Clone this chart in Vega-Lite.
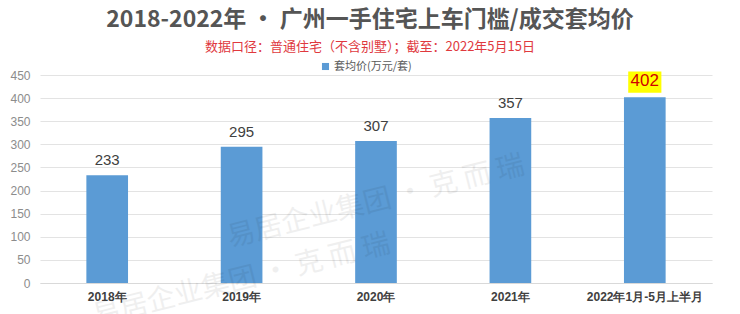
{
  "$schema": "https://vega.github.io/schema/vega-lite/v6.json",
  "width": 672,
  "height": 208,
  "autosize": {"type": "none"},
  "padding": {"left": 40, "top": 75, "right": 28, "bottom": 31},
  "background": "white",
  "title": {
    "text": "2018-2022年 · 广州一手住宅上车门槛/成交套均价",
    "subtitle": "数据口径：普通住宅（不含别墅）；截至：2022年5月15日",
    "anchor": "middle",
    "frame": "group",
    "dx": -6,
    "offset": 7,
    "font": "Noto Sans CJK SC",
    "fontSize": 23,
    "fontWeight": "bold",
    "color": "#555555",
    "subtitleFont": "Noto Sans CJK SC",
    "subtitleFontSize": 13,
    "subtitleColor": "#e0393e",
    "subtitlePadding": 9
  },
  "datasets": {
    "wm": [
      {"x": "2020年", "y": 175, "t": "易居企业集团 · 克 而 瑞"},
      {"x": "2019年", "y": 5, "t": "易居企业集团 · 克 而 瑞"}
    ]
  },
  "data": {
    "values": [
      {"year": "2018年", "price": 233, "hl": false},
      {"year": "2019年", "price": 295, "hl": false},
      {"year": "2020年", "price": 307, "hl": false},
      {"year": "2021年", "price": 357, "hl": false},
      {"year": "2022年1月-5月上半月", "price": 402, "hl": true}
    ]
  },
  "encoding": {
    "x": {
      "field": "year",
      "type": "nominal",
      "sort": null,
      "scale": {"paddingInner": 0.69, "paddingOuter": 0.345},
      "axis": {
        "title": null,
        "labelAngle": 0,
        "labelFont": "Liberation Sans",
        "labelFontSize": 12,
        "labelFontWeight": "bold",
        "labelColor": "#404040",
        "labelPadding": 8,
        "ticks": false,
        "domainColor": "#d9d9d9"
      }
    },
    "y": {
      "field": "price",
      "type": "quantitative",
      "scale": {"domain": [0, 450]},
      "axis": {
        "title": null,
        "values": [0, 50, 100, 150, 200, 250, 300, 350, 400, 450],
        "domain": false,
        "ticks": false,
        "labelFont": "Liberation Sans",
        "labelFontSize": 12,
        "labelColor": "#8c8c8c",
        "labelPadding": 10,
        "gridColor": "#e3e3e3"
      }
    }
  },
  "layer": [
    {
      "mark": {"type": "bar", "color": "#5b9bd5"},
      "encoding": {
        "color": {
          "datum": "套均价(万元/套)",
          "scale": {"range": ["#5b9bd5"]},
          "legend": {
            "title": null,
            "orient": "none",
            "legendX": 280,
            "legendY": -14,
            "symbolType": "square",
            "symbolSize": 50,
            "labelFont": "Noto Sans CJK SC",
            "labelFontSize": 11,
            "labelColor": "#595959",
            "labelOffset": 3
          }
        }
      }
    },
    {
      "data": {"name": "wm"},
      "mark": {
        "type": "text",
        "angle": -14,
        "font": "Noto Sans CJK SC",
        "fontSize": 28,
        "color": "#000000",
        "opacity": 0.06,
        "dx": 0
      },
      "encoding": {
        "x": {"field": "x", "type": "nominal"},
        "y": {"field": "y", "type": "quantitative"},
        "text": {"field": "t"}
      }
    },
    {
      "transform": [{"filter": "datum.hl"}],
      "mark": {
        "type": "point",
        "shape": "M-1,-0.64H1V0.64H-1Z",
        "filled": true,
        "color": "#ffff00",
        "opacity": 1,
        "size": 1100,
        "yOffset": -15
      }
    },
    {
      "mark": {
        "type": "text",
        "baseline": "bottom",
        "dy": -7,
        "font": "Liberation Sans",
        "fontSize": 15
      },
      "encoding": {
        "text": {"field": "price"},
        "color": {
          "condition": {"test": "datum.hl", "value": "#d00000"},
          "value": "#404040"
        },
        "size": {
          "condition": {"test": "datum.hl", "value": 17},
          "value": 15
        }
      }
    }
  ],
  "config": {
    "view": {"stroke": null}
  }
}
